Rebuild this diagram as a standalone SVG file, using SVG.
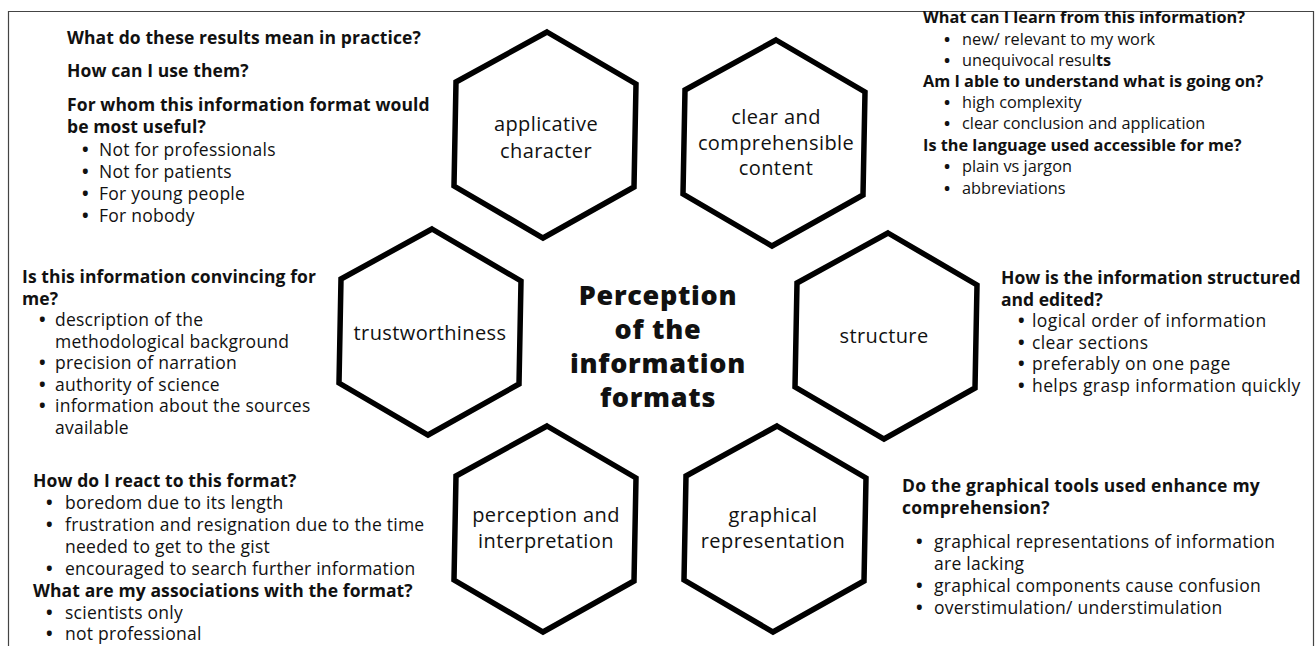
<svg xmlns="http://www.w3.org/2000/svg" xmlns:xlink="http://www.w3.org/1999/xlink" width="1316" height="646" viewBox="0 0 1316 646">
<style>
text{font-family:"Open Sans","Liberation Sans",sans-serif;fill:#111;font-size:17.5px;letter-spacing:0.25px}
.h{font-weight:700;font-size:17.5px;letter-spacing:0.1px}
.b{font-weight:700}
.tr{font-size:16.3px;letter-spacing:0}
.tr .h{font-size:16.3px;letter-spacing:0}
.st{letter-spacing:0.4px}
.st .h{letter-spacing:0}
.gr .h{letter-spacing:0.25px}
.lbl{font-size:20px;letter-spacing:0.4px;text-anchor:middle}
.title{font-weight:800;font-size:27px;letter-spacing:0.7px;text-anchor:middle}
.hex{fill:#fff;stroke:#000;stroke-width:5.5;stroke-linejoin:miter}
</style>
<defs>
<polygon id="hexshape" points="2,-103 91,-51 89,52 -2,103 -91,51 -89,-53"/>
</defs>
<rect width="1316" height="646" fill="#fff"/>
<path d="M8.5,646 V11.5 H1313.5 V646" fill="none" stroke="#444" stroke-width="1.2"/>
<g id="connectors"></g>

<g id="center">
<text class="title"><tspan x="658" y="305">Perception</tspan><tspan x="658" y="339">of the</tspan><tspan x="658" y="373">information</tspan><tspan x="658" y="407">formats</tspan></text>
</g>

<g id="applicative">
<use xlink:href="#hexshape" href="#hexshape" class="hex" transform="translate(545,135)"/>
<text class="lbl"><tspan x="546" y="131">applicative</tspan><tspan x="546" y="158">character</tspan></text>
</g>
<g id="clear">
<use xlink:href="#hexshape" href="#hexshape" class="hex" transform="translate(774,143)"/>
<text class="lbl"><tspan x="776" y="124">clear and</tspan><tspan x="776" y="149.5">comprehensible</tspan><tspan x="776" y="175">content</tspan></text>
</g>
<g id="trustworthiness">
<use xlink:href="#hexshape" href="#hexshape" class="hex" transform="translate(430,332)"/>
<text class="lbl" x="430" y="340">trustworthiness</text>
</g>
<g id="structure">
<use xlink:href="#hexshape" href="#hexshape" class="hex" transform="translate(886,336)"/>
<text class="lbl" x="884" y="343">structure</text>
</g>
<g id="perception">
<use xlink:href="#hexshape" href="#hexshape" class="hex" transform="translate(545,529)"/>
<text class="lbl"><tspan x="546" y="522">perception and</tspan><tspan x="546" y="548">interpretation</tspan></text>
</g>
<g id="graphical">
<use xlink:href="#hexshape" href="#hexshape" class="hex" transform="translate(775,529)"/>
<text class="lbl"><tspan x="773" y="522">graphical</tspan><tspan x="773" y="548">representation</tspan></text>
</g>

<g id="text-applicative">
<text><tspan class="h" x="67" y="44">What do these results mean in practice?</tspan><tspan class="h" x="67" y="77">How can I use them?</tspan><tspan class="h" x="67" y="111">For whom this information format would</tspan><tspan class="h" x="67" y="133">be most useful?</tspan><tspan class="b" x="82" y="156">•</tspan><tspan x="99" y="156">Not for professionals</tspan><tspan class="b" x="82" y="178">•</tspan><tspan x="99" y="178">Not for patients</tspan><tspan class="b" x="82" y="200">•</tspan><tspan x="99" y="200">For young people</tspan><tspan class="b" x="82" y="222">•</tspan><tspan x="99" y="222">For nobody</tspan></text>
</g>

<g id="text-clear">
<text class="tr"><tspan class="h" x="923" y="23">What can I learn from this information?</tspan><tspan class="b" x="944" y="45">•</tspan><tspan x="962" y="45">new/ relevant to my work</tspan><tspan class="b" x="944" y="66">•</tspan><tspan x="962" y="66">unequivocal resul</tspan><tspan class="b">ts</tspan><tspan class="h" x="923" y="87">Am I able to understand what is going on?</tspan><tspan class="b" x="944" y="108">•</tspan><tspan x="962" y="108">high complexity</tspan><tspan class="b" x="944" y="129">•</tspan><tspan x="962" y="129">clear conclusion and application</tspan><tspan class="h" x="923" y="151">Is the language used accessible for me?</tspan><tspan class="b" x="944" y="172">•</tspan><tspan x="962" y="172">plain vs jargon</tspan><tspan class="b" x="944" y="194">•</tspan><tspan x="962" y="194">abbreviations</tspan></text>
</g>

<g id="text-trust">
<text><tspan class="h" x="22" y="283">Is this information convincing for</tspan><tspan class="h" x="22" y="304.5">me?</tspan><tspan class="b" x="39" y="326">•</tspan><tspan x="55" y="326">description of the</tspan><tspan x="55" y="347.5">methodological background</tspan><tspan class="b" x="39" y="369">•</tspan><tspan x="55" y="369">precision of narration</tspan><tspan class="b" x="39" y="390.5">•</tspan><tspan x="55" y="390.5">authority of science</tspan><tspan class="b" x="39" y="412">•</tspan><tspan x="55" y="412">information about the sources</tspan><tspan x="55" y="433.5">available</tspan></text>
</g>

<g id="text-structure">
<text class="st"><tspan class="h" x="1001" y="284">How is the information structured</tspan><tspan class="h" x="1001" y="305.5">and edited?</tspan><tspan class="b" x="1018" y="327">•</tspan><tspan x="1032" y="327">logical order of information</tspan><tspan class="b" x="1018" y="348.5">•</tspan><tspan x="1032" y="348.5">clear sections</tspan><tspan class="b" x="1018" y="370">•</tspan><tspan x="1032" y="370">preferably on one page</tspan><tspan class="b" x="1018" y="391.5">•</tspan><tspan x="1032" y="391.5">helps grasp information quickly</tspan></text>
</g>

<g id="text-perception">
<text><tspan class="h" x="33" y="487">How do I react to this format?</tspan><tspan class="b" x="46" y="509">•</tspan><tspan x="65" y="509">boredom due to its length</tspan><tspan class="b" x="46" y="531">•</tspan><tspan x="65" y="531">frustration and resignation due to the time</tspan><tspan x="65" y="553">needed to get to the gist</tspan><tspan class="b" x="46" y="575">•</tspan><tspan x="65" y="575">encouraged to search further information</tspan><tspan class="h" x="33" y="597">What are my associations with the format?</tspan><tspan class="b" x="46" y="618.5">•</tspan><tspan x="65" y="618.5">scientists only</tspan><tspan class="b" x="46" y="640">•</tspan><tspan x="65" y="640">not professional</tspan></text>
</g>

<g id="text-graphical">
<text class="gr"><tspan class="h" x="902" y="492">Do the graphical tools used enhance my</tspan><tspan class="h" x="902" y="513.5">comprehension?</tspan><tspan class="b" x="916" y="548">•</tspan><tspan x="934" y="548">graphical representations of information</tspan><tspan x="934" y="570">are lacking</tspan><tspan class="b" x="916" y="592">•</tspan><tspan x="934" y="592">graphical components cause confusion</tspan><tspan class="b" x="916" y="614">•</tspan><tspan x="934" y="614">overstimulation/ understimulation</tspan></text>
</g>
</svg>
